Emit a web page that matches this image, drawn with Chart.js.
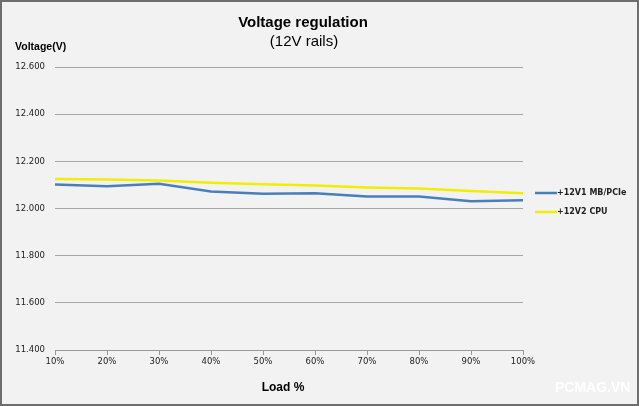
<!DOCTYPE html>
<html>
<head>
<meta charset="utf-8">
<script src="https://cdn.jsdelivr.net/npm/chart.js@4.4.0/dist/chart.umd.min.js"></script>
<style>
    html, body { margin: 0; padding: 0; background: #f2f2f2; }
    #wrap { width: 639px; height: 406px; }
</style>
</head>
<body>
<div id="wrap"><canvas id="voltChart" width="639" height="406"></canvas></div>
<script>
// Dữ liệu
const loadLabels = ['10%', '20%', '30%', '40%', '50%', '60%', '70%', '80%', '90%', '100%'];
const rail1Values = [12.102, 12.094, 12.105, 12.072, 12.063, 12.065, 12.051, 12.051, 12.031, 12.035];
const rail2Values = [12.125, 12.123, 12.119, 12.109, 12.103, 12.097, 12.089, 12.085, 12.074, 12.065];
const rail1Name = '+12V1 MB/PCIe';
const rail2Name = '+12V2 CPU';
const yTicks = [11.4, 11.6, 11.8, 12.0, 12.2, 12.4, 12.6];

// Nền, viền, tiêu đề và chú thích
const decorPlugin = {
    id: 'decor',
    beforeDraw(chart) {
        const c = chart.ctx;
        c.save();
        c.fillStyle = '#f2f2f2';
        c.fillRect(0, 0, chart.width, chart.height);
        c.strokeStyle = '#6e6e6e';
        c.lineWidth = 2;
        c.strokeRect(1, 1, chart.width - 2, chart.height - 2);
        c.restore();
    },
    afterDraw(chart) {
        const c = chart.ctx;
        c.save();
        c.textBaseline = 'middle';
        c.textAlign = 'center';
        c.fillStyle = '#000';
        c.font = 'bold 15px "Liberation Sans", Arial, sans-serif';
        c.fillText('Voltage regulation', 303, 23);
        c.font = '15px "Liberation Sans", Arial, sans-serif';
        c.fillText('(12V rails)', 304, 42);
        c.font = 'bold 12px "Liberation Sans", Arial, sans-serif';
        c.fillText('Load %', 283, 388);

        c.textAlign = 'left';
        c.font = 'bold 10.5px "Liberation Sans", Arial, sans-serif';
        c.fillText('Voltage(V)', 15, 47);

        c.font = 'bold 14px "Liberation Sans", Arial, sans-serif';
        c.fillStyle = '#ffffff';
        c.fillText('PCMAG.VN', 555, 388);

        // chú thích
        const items = chart.data.datasets.map((ds, i) => ({ label: ds.label, color: ds.borderColor, y: 193 + i * 19 }));
        c.font = 'bold 8px "DejaVu Sans", sans-serif';
        items.forEach(it => {
            c.strokeStyle = it.color;
            c.lineWidth = 2.5;
            c.beginPath();
            c.moveTo(535, it.y);
            c.lineTo(557, it.y);
            c.stroke();
            c.fillStyle = '#222';
            c.fillText(it.label, 557, it.y);
        });
        c.restore();
    }
};

const ctx = document.getElementById('voltChart').getContext('2d');
const voltChart = new Chart(ctx, {
    type: 'line',
    data: {
        labels: loadLabels,
        datasets: [
            { label: rail1Name, data: rail1Values, borderColor: '#4a7ebb', borderWidth: 2.5, pointRadius: 0, tension: 0, fill: false },
            { label: rail2Name, data: rail2Values, borderColor: '#f2ee00', borderWidth: 2.5, pointRadius: 0, tension: 0, fill: false }
        ]
    },
    options: {
        responsive: false,
        animation: false,
        devicePixelRatio: 1,
        layout: { padding: { top: 67, right: 116, bottom: 0, left: 0 } },
        plugins: { legend: { display: false }, title: { display: false }, tooltip: { enabled: false } },
        scales: {
            x: {
                offset: false,
                grid: { display: true, drawOnChartArea: false, drawTicks: true, tickLength: 5, color: '#999' },
                border: { display: true, color: '#999', width: 1 },
                ticks: { color: '#222', font: { family: '"DejaVu Sans", sans-serif', size: 8.5 }, padding: 2, maxRotation: 0, autoSkip: false },
                afterFit(scale) { scale.height = 56; }
            },
            y: {
                min: 11.4,
                max: 12.6,
                afterBuildTicks(scale) { scale.ticks = yTicks.map(v => ({ value: v })); },
                grid: { color: '#a6a6a6', lineWidth: 1, drawTicks: false, tickLength: 0 },
                border: { display: false },
                ticks: {
                    color: '#222',
                    padding: 10,
                    font: { family: '"DejaVu Sans", sans-serif', size: 8.5 },
                    callback: v => v.toFixed(3)
                },
                afterFit(scale) { scale.width = 55; }
            }
        }
    },
    plugins: [decorPlugin]
});
</script>
</body>
</html>
